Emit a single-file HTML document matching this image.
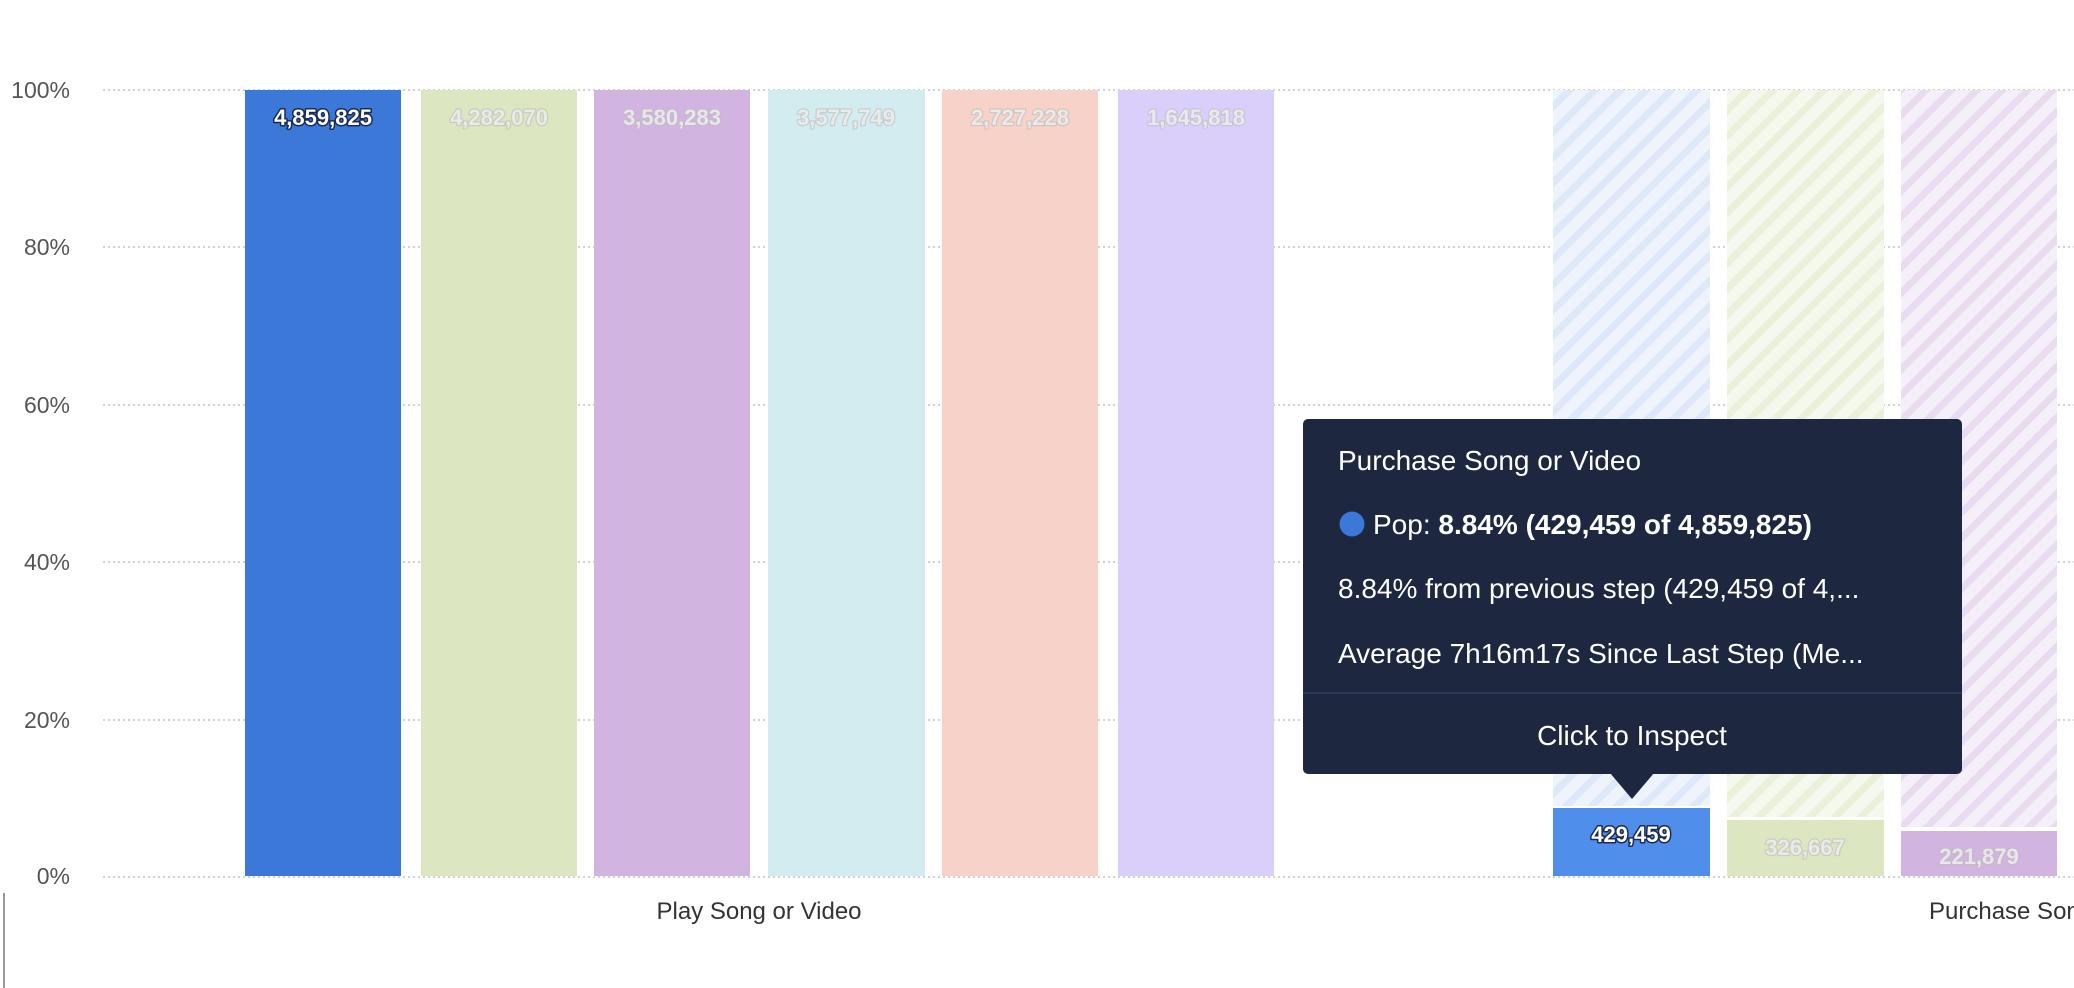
<!DOCTYPE html>
<html><head><meta charset="utf-8"><style>
html,body{margin:0;padding:0;background:#fff;width:2074px;height:988px;overflow:hidden}
svg{display:block;font-family:"Liberation Sans",sans-serif}
</style></head><body>
<svg width="2074" height="988" viewBox="0 0 2074 988">
<defs>
<pattern id="hb" width="18" height="18" patternUnits="userSpaceOnUse" patternTransform="rotate(45)"><rect width="18" height="18" fill="#eef3fc"/><rect width="7" height="18" fill="#dfe8f8"/></pattern>
<pattern id="hg" width="18" height="18" patternUnits="userSpaceOnUse" patternTransform="rotate(45)"><rect width="18" height="18" fill="#f5f8ec"/><rect width="7" height="18" fill="#eaf0d9"/></pattern>
<pattern id="hp" width="18" height="18" patternUnits="userSpaceOnUse" patternTransform="rotate(45)"><rect width="18" height="18" fill="#f5eff9"/><rect width="7" height="18" fill="#e9dcf1"/></pattern>
</defs>
<g fill="#555" font-size="23" text-anchor="end">
<text x="70" y="98">100%</text><text x="70" y="255">80%</text><text x="70" y="413">60%</text><text x="70" y="570">40%</text><text x="70" y="728">20%</text><text x="70" y="884">0%</text>
</g>
<g stroke="#c4c4c4" stroke-width="1.5" stroke-dasharray="2,3">
<line x1="103" y1="90" x2="2074" y2="90"/><line x1="103" y1="247" x2="2074" y2="247"/><line x1="103" y1="405" x2="2074" y2="405"/><line x1="103" y1="562" x2="2074" y2="562"/><line x1="103" y1="720" x2="2074" y2="720"/><line x1="103" y1="877" x2="2074" y2="877"/>
</g>
<rect x="245" y="90" width="156" height="786" fill="#3b78d8"/>
<rect x="421" y="90" width="156" height="786" fill="#dce6c0"/>
<rect x="594" y="90" width="156" height="786" fill="#d1b5e0"/>
<rect x="768" y="90" width="157" height="786" fill="#d3ecef"/>
<rect x="942" y="90" width="156" height="786" fill="#f6d2c9"/>
<rect x="1118" y="90" width="156" height="786" fill="#dacffa"/>
<rect x="1553" y="90" width="157" height="716" fill="url(#hb)"/>
<rect x="1727" y="90" width="157" height="727" fill="url(#hg)"/>
<rect x="1901" y="90" width="156" height="737" fill="url(#hp)"/>
<rect x="1553" y="808" width="157" height="68" fill="#4f8eea"/>
<rect x="1727" y="820" width="157" height="56" fill="#dce6c0"/>
<rect x="1901" y="831" width="156" height="45" fill="#d1b5e0"/>
<g font-size="22" font-weight="bold" text-anchor="middle" stroke-linejoin="round">
<text x="323" y="125" fill="#fff" stroke="#1a2a50" stroke-width="3" paint-order="stroke">4,859,825</text>
<text x="1631" y="842" fill="#fff" stroke="#1a2a50" stroke-width="3" paint-order="stroke">429,459</text>
<g fill="#eeeeee" fill-opacity="0.85" stroke="#bdbdbd" stroke-opacity="0.6" stroke-width="2.5" paint-order="stroke">
<text x="499" y="125">4,282,070</text><text x="672" y="125">3,580,283</text><text x="846" y="125">3,577,749</text><text x="1020" y="125">2,727,228</text><text x="1196" y="125">1,645,818</text>
<text x="1805" y="855">326,667</text><text x="1979" y="864">221,879</text>
</g></g>
<g fill="#333" font-size="24">
<text x="759" y="919" text-anchor="middle">Play Song or Video</text>
<text x="1929" y="919">Purchase Song or Video</text>
</g>
<line x1="4" y1="893" x2="4" y2="988" stroke="#999" stroke-width="2"/>
<rect x="1303" y="419" width="659" height="355" rx="5" fill="#1d2740"/>
<polygon points="1610,773 1654,773 1632,799" fill="#1d2740"/>
<line x1="1303" y1="693" x2="1962" y2="693" stroke="#2b3856" stroke-width="2"/>
<g fill="#fff" font-size="28">
<text x="1338" y="470">Purchase Song or Video</text>
<circle cx="1352" cy="524" r="12.5" fill="#3b78d8"/>
<text x="1373" y="534">Pop: <tspan font-weight="bold">8.84% (429,459 of 4,859,825)</tspan></text>
<text x="1338" y="598">8.84% from previous step (429,459 of 4,...</text>
<text x="1338" y="663">Average 7h16m17s Since Last Step (Me...</text>
<text x="1632" y="745" text-anchor="middle">Click to Inspect</text>
</g>
</svg>
</body></html>
